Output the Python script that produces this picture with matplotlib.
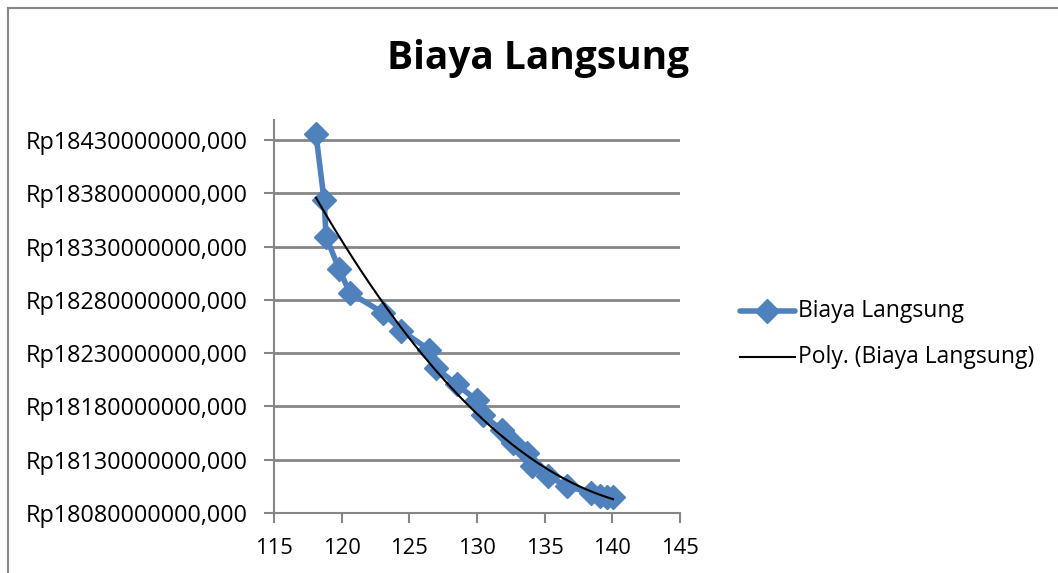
import matplotlib

matplotlib.use("Agg")
import matplotlib.pyplot as plt
import numpy as np
from matplotlib.lines import Line2D
from matplotlib.ticker import FuncFormatter, MultipleLocator

# durasi (hari) vs biaya langsung (Rp)
durasi = [118.1, 118.7, 118.85, 119.8, 120.6, 123.05, 124.4, 126.45, 127.0, 128.5,
          130.0, 130.45, 131.85, 132.65, 133.7, 134.05, 135.25, 136.65, 138.4,
          139.1, 139.6, 140.05]
biaya = [18435.6, 18373.8, 18339.2, 18309.3, 18286.8, 18268.1, 18251.3, 18233.5,
         18215.7, 18200.7, 18185.7, 18171.7, 18157.7, 18145.5, 18136.1, 18124.0,
         18114.6, 18105.3, 18098.7, 18095.9, 18095.0, 18095.0]
biaya = [b * 1e6 for b in biaya]
title = "Biaya Langsung"
series_name = "Biaya Langsung"
trend_name = "Poly. (Biaya Langsung)"

BLUE = "#4F81BD"
GRID = "#868686"
W, H, DPI = 1058, 573, 100

plt.rcParams["font.family"] = ["Open Sans", "DejaVu Sans"]

fig = plt.figure(figsize=(W / DPI, H / DPI), dpi=DPI, facecolor="white")

# chart area border (extends past right/bottom edge)
fig.add_artist(Line2D([8 / W, 8 / W], [0, 1 - 8 / H], color=GRID, lw=1.5))
fig.add_artist(Line2D([8 / W, 1], [1 - 8 / H, 1 - 8 / H], color=GRID, lw=1.5))

left, right, top, bottom = 274, 680, 120, 513
ax = fig.add_axes([left / W, 1 - bottom / H, (right - left) / W, (bottom - top) / H])

ax.plot(durasi, biaya, color=BLUE, lw=4, marker="D", markersize=12,
        markerfacecolor=BLUE, markeredgecolor=BLUE, zorder=3)

coef = np.polyfit(durasi, biaya, 2)
xs = np.linspace(min(durasi), max(durasi), 200)
ax.plot(xs, np.polyval(coef, xs), color="black", lw=1.5, zorder=4)

ax.set_xlim(115, 145)
ax.set_ylim(18080e6, 18449e6)
ax.xaxis.set_major_locator(MultipleLocator(5))
ax.set_yticks(np.arange(18080e6, 18431e6, 50e6))
ax.yaxis.set_major_formatter(FuncFormatter(lambda v, p: f"Rp{v:.3f}".replace(".", ",")))
ax.grid(axis="y", color=GRID, lw=2)
ax.set_axisbelow(True)
for s in ["top", "right"]:
    ax.spines[s].set_visible(False)
for s in ["left", "bottom"]:
    ax.spines[s].set_color(GRID)
    ax.spines[s].set_linewidth(1.5)
ax.tick_params(axis="both", colors=GRID, length=7, width=1.5, labelcolor="black")
ax.tick_params(axis="y", pad=12, labelsize=16.8)
ax.tick_params(axis="x", pad=11, labelsize=15.8)

fig.text(538 / W, 1 - 58 / H, title, fontsize=28, fontweight="bold",
         ha="center", va="center")

# legend
fig.add_artist(Line2D([740 / W, 795 / W], [1 - 311 / H] * 2, color=BLUE, lw=4,
                      solid_capstyle="round"))
fig.add_artist(Line2D([767 / W], [1 - 311 / H], color=BLUE, marker="D",
                      markersize=12, lw=0))
fig.text(798 / W, 1 - 311 / H, series_name, fontsize=16.5, va="center")
fig.add_artist(Line2D([740 / W, 795 / W], [1 - 357 / H] * 2, color="black", lw=1.5))
fig.text(798 / W, 1 - 357 / H, trend_name, fontsize=16.5, va="center")

fig.savefig("out.png", dpi=DPI, facecolor="white")
